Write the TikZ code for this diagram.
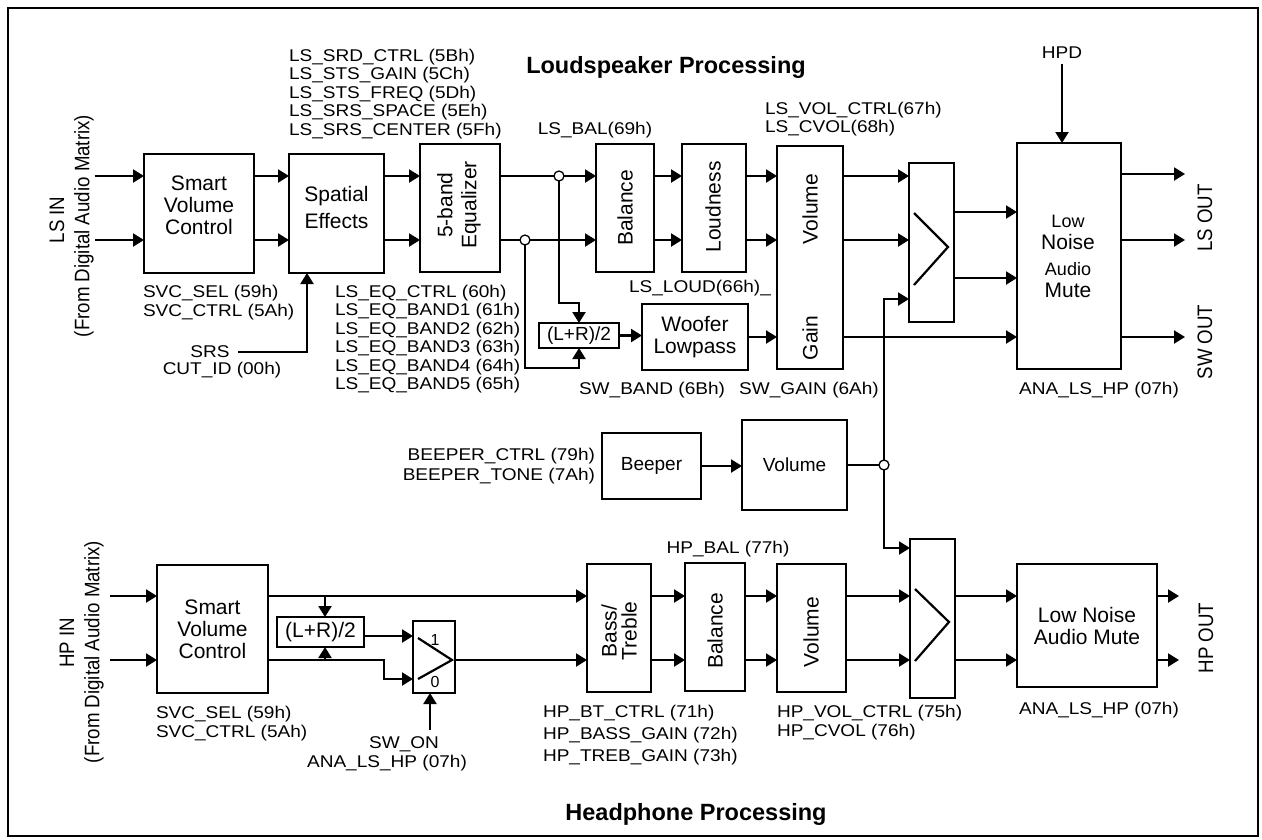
\documentclass[tikz,border=0pt]{standalone}
\usepackage{fontspec}
\setmainfont{Liberation Sans}
\newfontfamily\lblfam[FakeStretch=1.12]{Liberation Sans}
\usetikzlibrary{arrows.meta}
\newcommand\lblsz{\lblfam\fontsize{17}{18.5}\selectfont}
\newcommand\blksz{\fontsize{21}{22}\selectfont}
\newcommand\smblk{\fontsize{19}{21}\selectfont}
\newcommand\rotsz{\fontsize{18.7}{20}\selectfont}
\newcommand\ttlsz{\bfseries\fontsize{23.5}{26}\selectfont}
\begin{document}
\begin{tikzpicture}[x=1pt,y=-1pt,
  every node/.style={inner sep=0pt,outer sep=0pt},
  box/.style={draw,line width=2.2pt,align=center,font=\blksz},
  lab/.style={font=\lblsz,align=left},
  rlab/.style={font=\rotsz,rotate=90},
  btx/.style={font=\blksz,align=center},
  arr/.style={line width=2.2pt,-{Triangle[length=11pt,width=13pt]}},
  wire/.style={line width=2.2pt},
  junc/.style={circle,draw,fill=white,line width=1.3pt,minimum size=10pt},
  ttl/.style={font=\ttlsz}]
\useasboundingbox (0,0) rectangle (1262,839);
\draw[line width=2.2pt] (8,8) rectangle (1258,836);

% ---------- boxes ----------
\node[box,minimum width=110,minimum height=119] (svcL) at (199,213.5) {};
\node[box,minimum width=95,minimum height=119] (spat) at (336.5,213.5) {};
\node[box,minimum width=80,minimum height=128] (eq) at (460,208) {};
\node[box,minimum width=58,minimum height=128] (balL) at (625,208) {};
\node[box,minimum width=64,minimum height=128] (loud) at (714,208) {};
\node[box,minimum width=66,minimum height=223] (volL) at (810,257.5) {};
\node[box,minimum width=45,minimum height=159] (mixL) at (931.5,242.5) {};
\node[box,minimum width=104,minimum height=226] (muteL) at (1069,256) {};
\node[box,minimum width=80,minimum height=25,font=\smblk] (lrA) at (579,335.5) {(L+R)/2};
\node[box,minimum width=106,minimum height=66] (woof) at (695,337) {Woofer\\Lowpass};
\node[box,minimum width=99,minimum height=66,font=\smblk] (beep) at (651.5,466) {Beeper};
\node[box,minimum width=105,minimum height=90,font=\smblk] (volB) at (794.5,465) {Volume};
\node[box,minimum width=111,minimum height=128] (svcH) at (212.5,629) {Smart\\Volume\\Control};
\node[box,minimum width=87,minimum height=30] (lrB) at (320.5,632) {(L+R)/2};
\node[box,minimum width=42,minimum height=72] (mux) at (434,657) {};
\node[box,minimum width=64,minimum height=128] (bt) at (619,628) {};
\node[box,minimum width=60,minimum height=128] (balH) at (715,627) {};
\node[box,minimum width=69,minimum height=128] (volH) at (811.5,628) {};
\node[box,minimum width=45,minimum height=159] (mixH) at (932.5,618.5) {};
\node[box,minimum width=140,minimum height=123] (muteH) at (1087,625.5) {Low Noise\\Audio Mute};

% ---------- block texts ----------
\node[btx] (svcLt) at (199,205.5) {Smart\\Volume\\Control};
\node[btx] (spatt) at (336.5,207) {Spatial\\[5pt]Effects};
\node[btx,rotate=90] (eqt) at (459,205) {5-band\\[2pt]Equalizer};
\node[btx,rotate=90] (balLt) at (625,208) {Balance};
\node[btx,rotate=90] (loudt) at (713,207) {Loudness};
\node[btx,rotate=90] (volLt) at (810,209) {Volume};
\node[btx,rotate=90] (gaint) at (810,338) {Gain};
\node[btx] (muteLt) at (1068,256) {{\fontsize{18}{18}\selectfont Low}\\Noise\\[4pt]{\fontsize{18}{18}\selectfont Audio}\\Mute};
\node[btx,rotate=90] (btt) at (619,631) {Bass/\\[-2pt]Treble};
\node[btx,rotate=90] (balHt) at (715,631) {Balance};
\node[btx,rotate=90] (volHt) at (811,632) {Volume};
\node[font=\fontsize{16}{16}\selectfont] (mone) at (435,640) {1};
\node[font=\fontsize{16}{16}\selectfont] (mzero) at (435,682) {0};

% ---------- labels ----------
\node[ttl,anchor=base] (ttlL) at (666,73) {Loudspeaker Processing};
\node[ttl,anchor=base] (ttlH) at (696,820) {Headphone Processing};
\node[lab,anchor=west] (lssrd) at (289,94) {LS\_SRD\_CTRL (5Bh)\\LS\_STS\_GAIN (5Ch)\\LS\_STS\_FREQ (5Dh)\\LS\_SRS\_SPACE (5Eh)\\LS\_SRS\_CENTER (5Fh)};
\node[lab,anchor=base] (lsbal) at (595,134) {LS\_BAL(69h)};
\node[lab,anchor=west] (lsvol) at (765,119) {LS\_VOL\_CTRL(67h)\\LS\_CVOL(68h)};
\node[lab,anchor=base] (hpd) at (1062,58) {HPD};
\node[lab,anchor=west] (svcLl) at (143,302.5) {SVC\_SEL (59h)\\SVC\_CTRL (5Ah)};
\node[lab,anchor=base] (srs) at (210,357) {SRS};
\node[lab,anchor=base] (cutid) at (222,374) {CUT\_ID (00h)};
\node[lab,anchor=west] (lseq) at (335,339) {LS\_EQ\_CTRL (60h)\\LS\_EQ\_BAND1 (61h)\\LS\_EQ\_BAND2 (62h)\\LS\_EQ\_BAND3 (63h)\\LS\_EQ\_BAND4 (64h)\\LS\_EQ\_BAND5 (65h)};
\node[lab,anchor=base] (lsloud) at (700,292) {LS\_LOUD(66h)\_};
\node[lab,anchor=base] (swband) at (652,394) {SW\_BAND (6Bh)};
\node[lab,anchor=base] (swgain) at (809,394) {SW\_GAIN (6Ah)};
\node[lab,anchor=base] (anaL) at (1099,394) {ANA\_LS\_HP (07h)};
\node[rlab] (lsout) at (1205,218) {\scalebox{1}[1.12]{LS OUT}};
\node[rlab] (swout) at (1205,342) {\scalebox{1}[1.12]{SW OUT}};
\node[rlab] (lsin) at (57,220) {\scalebox{1}[1.12]{LS IN}};
\node[rlab] (lsfrom) at (84,226) {\scalebox{1}[1.12]{(From Digital Audio Matrix)}};
\node[lab,anchor=east,align=right] (beepl) at (595,466) {BEEPER\_CTRL (79h)\\[1.5pt]BEEPER\_TONE (7Ah)};
\node[rlab] (hpin) at (67,643) {\scalebox{1}[1.12]{HP IN}};
\node[rlab] (hpfrom) at (94,652) {\scalebox{1}[1.12]{(From Digital Audio Matrix)}};
\node[lab,anchor=west] (svcHl) at (156,723.5) {SVC\_SEL (59h)\\SVC\_CTRL (5Ah)};
\node[lab,anchor=base] (swon) at (404,748) {SW\_ON};
\node[lab,anchor=base] (anaM) at (387,767) {ANA\_LS\_HP (07h)};
\node[lab,anchor=base] (hpbal) at (728,553) {HP\_BAL (77h)};
\node[lab,anchor=west] (hpbt) at (543,735) {HP\_BT\_CTRL (71h)\\[3.5pt]HP\_BASS\_GAIN (72h)\\[3.5pt]HP\_TREB\_GAIN (73h)};
\node[lab,anchor=west] (hpvol) at (777,722.5) {HP\_VOL\_CTRL (75h)\\HP\_CVOL (76h)};
\node[lab,anchor=base] (anaH) at (1099,714) {ANA\_LS\_HP (07h)};
\node[rlab] (hpout) at (1206,638) {\scalebox{1}[1.12]{HP OUT}};

% ---------- coordinates ----------
\coordinate (lsA) at (95,176);
\coordinate (lsB) at (95,240);
\coordinate (jA) at (559,176);
\coordinate (jB) at (525,240);
\coordinate (wA) at (579,303);
\coordinate (wB) at (579,368);
\coordinate (mo1) at (0,212);
\coordinate (mo2) at (0,278);
\coordinate (mi3) at (0,299);
\coordinate (oA) at (1185,174);
\coordinate (oB) at (1185,240);
\coordinate (oC) at (1185,337);
\coordinate (jC) at (884,465);
\coordinate (hm3) at (0,548);
\coordinate (srs0) at (238,352);
\coordinate (srsA) at (307,352);
\coordinate (hpdA) at (1062,64);
\coordinate (hA) at (110,596);
\coordinate (hB) at (110,660);
\coordinate (hj1) at (325,596);
\coordinate (hj2) at (325,660);
\coordinate (hk) at (384,679);
\coordinate (lv636) at (0,636);
\coordinate (swon0) at (430,730);
\coordinate (hoA) at (1179,596);
\coordinate (hoB) at (1179,660);

% ---------- LS connectors ----------
\draw[arr] (lsA) -- (lsA -| svcL.west);
\draw[arr] (lsB) -- (lsB -| svcL.west);
\foreach \a/\b in {svcL/spat,spat/eq,eq/balL,balL/loud,loud/volL,volL/mixL}{
  \draw[arr] (lsA -| \a.east) -- (lsA -| \b.west);
  \draw[arr] (lsB -| \a.east) -- (lsB -| \b.west);
}
\draw[arr] (jA) |- (wA) -- (wA |- lrA.north);
\draw[arr] (jB) |- (wB) -- (wB |- lrA.south);
\draw[arr] (lrA.east) -- (lrA.east -| woof.west);
\draw[arr] (woof.east) -- (woof.east -| volL.west);
\draw[arr] (woof.east -| volL.east) -- (woof.east -| muteL.west);
\draw[arr] (oC -| muteL.east) -- (oC);
\draw[arr] (mo1 -| mixL.east) -- (mo1 -| muteL.west);
\draw[arr] (mo2 -| mixL.east) -- (mo2 -| muteL.west);
\draw[arr] (oA -| muteL.east) -- (oA);
\draw[arr] (oB -| muteL.east) -- (oB);
\draw[arr] (hpdA) -- (hpdA |- muteL.north);
\draw[arr] (srs0) -- (srsA) -- (srsA |- spat.south);
\draw[wire] (914,213) -- (948,247) -- (914,285);

% ---------- beeper ----------
\draw[arr] (beep.east) -- (beep.east -| volB.west);
\draw[wire] (jC -| volB.east) -- (jC);
\draw[arr] (jC) |- (mi3 -| mixL.west);
\draw[arr] (jC) |- (hm3 -| mixH.west);

% ---------- HP connectors ----------
\draw[arr] (hA) -- (hA -| svcH.west);
\draw[arr] (hB) -- (hB -| svcH.west);
\draw[arr] (hA -| svcH.east) -- (hA -| bt.west);
\draw[arr] (hj1) -- (hj1 |- lrB.north);
\draw[arr] (hj2) -- (hj2 |- lrB.south);
\draw[arr] (hB -| svcH.east) -| (hk) -- (hk -| mux.west);
\draw[arr] (lv636 -| lrB.east) -- (lv636 -| mux.west);
\draw[arr] (hB -| mux.east) -- (hB -| bt.west);
\foreach \a/\b in {bt/balH,balH/volH,volH/mixH,mixH/muteH}{
  \draw[arr] (hA -| \a.east) -- (hA -| \b.west);
  \draw[arr] (hB -| \a.east) -- (hB -| \b.west);
}
\draw[arr] (hoA -| muteH.east) -- (hoA);
\draw[arr] (hoB -| muteH.east) -- (hoB);
\draw[arr] (swon0) -- (swon0 |- mux.south);
\draw[wire] (418,638) -- (452,660) -- (418,679);
\draw[wire] (915,589) -- (949,622) -- (915,661);

% ---------- junctions ----------
\node[junc] (jAc) at (jA) {};
\node[junc] (jBc) at (jB) {};
\node[junc] (jCc) at (jC) {};
\end{tikzpicture}
\end{document}
